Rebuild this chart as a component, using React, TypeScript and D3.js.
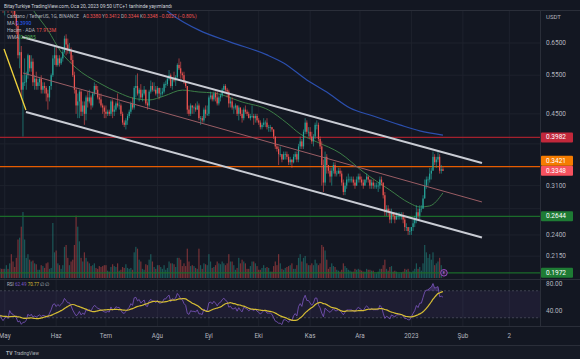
import React from "react";
import * as d3 from "d3";

// ---------- DATA (ADA/USDT daily, from 2022-03-28 to 2023-01-20) ----------
const firstDay = "2022-03-28";

const closes = [
  // Mar 28-31
  1.16, 1.19, 1.17, 1.14,
  // Apr
  1.15, 1.13, 1.17, 1.17, 1.12, 1.04, 1.06, 1.00, 1.01, 0.99,
  0.91, 0.94, 0.96, 0.93, 0.95, 0.95, 0.93, 0.95, 0.97, 0.95,
  0.93, 0.91, 0.91, 0.90, 0.91, 0.84, 0.87, 0.88, 0.82, 0.77,
  // May
  0.79, 0.80, 0.77, 0.84, 0.79, 0.78, 0.75, 0.71, 0.61, 0.62,
  0.51, 0.53, 0.53, 0.55, 0.61, 0.57, 0.59, 0.53, 0.54, 0.52,
  0.53, 0.54, 0.51, 0.52, 0.515, 0.50, 0.49, 0.52, 0.55, 0.60,
  0.61,
  // Jun
  0.58, 0.60, 0.585, 0.60, 0.62, 0.665, 0.645, 0.625, 0.625, 0.595,
  0.55, 0.51, 0.47, 0.48, 0.505, 0.455, 0.47, 0.45, 0.49, 0.48,
  0.49, 0.47, 0.50, 0.52, 0.51, 0.49, 0.485, 0.47, 0.465, 0.455,
  // Jul
  0.45, 0.455, 0.45, 0.48, 0.455, 0.46, 0.475, 0.47, 0.47, 0.45,
  0.43, 0.425, 0.435, 0.445, 0.455, 0.475, 0.465, 0.515, 0.52, 0.50,
  0.51, 0.49, 0.50, 0.51, 0.475, 0.47, 0.505, 0.52, 0.51, 0.51,
  0.50,
  // Aug
  0.515, 0.50, 0.50, 0.505, 0.525, 0.525, 0.54, 0.55, 0.52, 0.54,
  0.535, 0.545, 0.58, 0.57, 0.555, 0.55, 0.53, 0.52, 0.46, 0.45,
  0.47, 0.465, 0.465, 0.46, 0.47, 0.44, 0.44, 0.435, 0.46, 0.45,
  0.45,
  // Sep
  0.49, 0.495, 0.485, 0.50, 0.49, 0.475, 0.49, 0.495, 0.51, 0.52,
  0.51, 0.505, 0.475, 0.48, 0.465, 0.465, 0.47, 0.45, 0.465, 0.45,
  0.44, 0.46, 0.455, 0.45, 0.44, 0.445, 0.445, 0.44, 0.445, 0.435,
  // Oct
  0.43, 0.42, 0.425, 0.43, 0.43, 0.42, 0.42, 0.42, 0.415, 0.40,
  0.38, 0.375, 0.365, 0.365, 0.355, 0.365, 0.365, 0.36, 0.35, 0.355,
  0.35, 0.36, 0.365, 0.355, 0.38, 0.39, 0.38, 0.41, 0.43, 0.41,
  0.41,
  // Nov
  0.40, 0.39, 0.40, 0.425, 0.425, 0.395, 0.38, 0.345, 0.315, 0.36,
  0.345, 0.335, 0.325, 0.335, 0.345, 0.33, 0.33, 0.335, 0.33, 0.315,
  0.30, 0.31, 0.32, 0.32, 0.32, 0.32, 0.315, 0.31, 0.32, 0.325,
  // Dec
  0.32, 0.315, 0.31, 0.32, 0.325, 0.32, 0.31, 0.315, 0.31, 0.31,
  0.31, 0.31, 0.32, 0.315, 0.295, 0.27, 0.275, 0.27, 0.26, 0.27,
  0.265, 0.26, 0.265, 0.265, 0.265, 0.265, 0.26, 0.25, 0.25, 0.245,
  0.245,
  // Jan 2023
  0.25, 0.255, 0.26, 0.27, 0.265, 0.275, 0.275, 0.29, 0.31, 0.32,
  0.32, 0.33, 0.335, 0.36, 0.35, 0.355, 0.36, 0.335, 0.3375, 0.3348,
];

const highs = [
  1.20, 1.24, 1.20, 1.20,
  1.16, 1.18, 1.18, 1.19, 1.19, 1.12, 1.08, 1.07, 1.02, 1.03,
  0.99, 0.96, 0.97, 0.97, 0.96, 0.96, 0.96, 0.96, 0.98, 0.99,
  0.99, 0.94, 0.92, 0.92, 0.92, 0.92, 0.88, 0.92, 0.88, 0.83,
  0.80, 0.82, 0.81, 0.85, 0.87, 0.80, 0.78, 0.75, 0.72, 0.68,
  0.64, 0.55, 0.60, 0.56, 0.615, 0.61, 0.61, 0.60, 0.55, 0.56,
  0.54, 0.545, 0.55, 0.53, 0.53, 0.52, 0.51, 0.52, 0.555, 0.61,
  0.64,
  0.64, 0.61, 0.61, 0.605, 0.63, 0.675, 0.68, 0.665, 0.65, 0.635,
  0.61, 0.56, 0.515, 0.50, 0.51, 0.51, 0.48, 0.48, 0.495, 0.505,
  0.51, 0.495, 0.505, 0.53, 0.525, 0.52, 0.50, 0.50, 0.475, 0.47,
  0.47, 0.46, 0.46, 0.485, 0.485, 0.47, 0.48, 0.50, 0.48, 0.475,
  0.455, 0.435, 0.44, 0.45, 0.46, 0.48, 0.49, 0.52, 0.55, 0.555,
  0.515, 0.525, 0.51, 0.52, 0.51, 0.48, 0.51, 0.535, 0.53, 0.53,
  0.52,
  0.52, 0.515, 0.515, 0.515, 0.53, 0.535, 0.545, 0.565, 0.555, 0.545,
  0.56, 0.55, 0.585, 0.60, 0.59, 0.56, 0.56, 0.535, 0.52, 0.47,
  0.475, 0.47, 0.47, 0.475, 0.48, 0.475, 0.445, 0.445, 0.465, 0.47,
  0.47,
  0.495, 0.505, 0.50, 0.505, 0.505, 0.505, 0.495, 0.50, 0.515, 0.525,
  0.525, 0.515, 0.51, 0.49, 0.49, 0.47, 0.475, 0.47, 0.47, 0.465,
  0.46, 0.465, 0.47, 0.46, 0.455, 0.45, 0.47, 0.45, 0.45, 0.45,
  0.44, 0.435, 0.43, 0.44, 0.435, 0.44, 0.425, 0.425, 0.42, 0.415,
  0.40, 0.385, 0.38, 0.38, 0.365, 0.37, 0.37, 0.37, 0.365, 0.36,
  0.355, 0.365, 0.37, 0.37, 0.385, 0.40, 0.395, 0.415, 0.44, 0.435,
  0.42,
  0.42, 0.41, 0.405, 0.43, 0.435, 0.43, 0.40, 0.39, 0.355, 0.37,
  0.365, 0.345, 0.34, 0.34, 0.35, 0.35, 0.335, 0.34, 0.34, 0.335,
  0.32, 0.315, 0.325, 0.33, 0.325, 0.325, 0.325, 0.32, 0.325, 0.33,
  0.33, 0.325, 0.32, 0.32, 0.33, 0.325, 0.32, 0.32, 0.32, 0.315,
  0.315, 0.315, 0.325, 0.325, 0.315, 0.30, 0.28, 0.28, 0.275, 0.275,
  0.27, 0.27, 0.27, 0.27, 0.27, 0.27, 0.27, 0.265, 0.255, 0.25,
  0.25,
  0.25, 0.26, 0.265, 0.28, 0.275, 0.28, 0.28, 0.295, 0.32, 0.325,
  0.325, 0.34, 0.34, 0.37, 0.365, 0.36, 0.37, 0.365, 0.345, 0.3412,
];

const lows = [
  1.13, 1.15, 1.14, 1.13,
  1.10, 1.12, 1.12, 1.11, 1.11, 1.02, 1.03, 0.99, 0.99, 0.98,
  0.90, 0.90, 0.92, 0.92, 0.93, 0.94, 0.93, 0.90, 0.94, 0.94,
  0.91, 0.90, 0.90, 0.89, 0.86, 0.83, 0.83, 0.85, 0.81, 0.76,
  0.75, 0.77, 0.76, 0.77, 0.76, 0.75, 0.74, 0.68, 0.60, 0.57,
  0.49, 0.40, 0.52, 0.51, 0.54, 0.56, 0.56, 0.52, 0.51, 0.51,
  0.51, 0.52, 0.50, 0.50, 0.50, 0.48, 0.46, 0.48, 0.51, 0.545,
  0.58,
  0.575, 0.575, 0.575, 0.58, 0.59, 0.615, 0.61, 0.615, 0.615, 0.585,
  0.545, 0.50, 0.45, 0.44, 0.44, 0.445, 0.445, 0.425, 0.435, 0.465,
  0.475, 0.46, 0.465, 0.495, 0.50, 0.485, 0.475, 0.465, 0.45, 0.44,
  0.44, 0.445, 0.445, 0.445, 0.44, 0.445, 0.455, 0.465, 0.46, 0.445,
  0.425, 0.42, 0.415, 0.425, 0.44, 0.45, 0.46, 0.46, 0.49, 0.495,
  0.48, 0.485, 0.48, 0.495, 0.47, 0.46, 0.465, 0.50, 0.505, 0.505,
  0.495,
  0.49, 0.485, 0.49, 0.495, 0.50, 0.515, 0.52, 0.535, 0.515, 0.51,
  0.53, 0.52, 0.54, 0.565, 0.54, 0.54, 0.525, 0.515, 0.45, 0.445,
  0.445, 0.45, 0.45, 0.455, 0.46, 0.435, 0.425, 0.43, 0.43, 0.44,
  0.445,
  0.445, 0.485, 0.48, 0.48, 0.48, 0.47, 0.47, 0.48, 0.49, 0.505,
  0.505, 0.49, 0.465, 0.465, 0.46, 0.45, 0.46, 0.445, 0.435, 0.445,
  0.43, 0.435, 0.45, 0.445, 0.44, 0.435, 0.44, 0.425, 0.43, 0.43,
  0.425, 0.415, 0.415, 0.42, 0.42, 0.415, 0.41, 0.41, 0.41, 0.395,
  0.375, 0.37, 0.345, 0.36, 0.35, 0.355, 0.355, 0.355, 0.345, 0.345,
  0.34, 0.348, 0.355, 0.35, 0.35, 0.375, 0.375, 0.375, 0.405, 0.405,
  0.40,
  0.395, 0.385, 0.38, 0.395, 0.415, 0.39, 0.375, 0.31, 0.30, 0.31,
  0.33, 0.33, 0.315, 0.31, 0.33, 0.325, 0.325, 0.33, 0.325, 0.31,
  0.295, 0.295, 0.305, 0.315, 0.315, 0.315, 0.31, 0.305, 0.31, 0.315,
  0.315, 0.31, 0.305, 0.31, 0.315, 0.315, 0.305, 0.305, 0.305, 0.305,
  0.305, 0.30, 0.305, 0.31, 0.29, 0.265, 0.265, 0.265, 0.255, 0.255,
  0.26, 0.255, 0.26, 0.26, 0.26, 0.26, 0.255, 0.245, 0.245, 0.24,
  0.24,
  0.24, 0.245, 0.25, 0.255, 0.26, 0.26, 0.27, 0.275, 0.29, 0.305,
  0.31, 0.315, 0.32, 0.335, 0.345, 0.34, 0.35, 0.33, 0.33, 0.3344,
];

// volume, millions of ADA
const volumes = [
  700, 800, 600, 650,
  600, 500, 450, 550, 550, 800, 500, 600, 300, 350,
  700, 550, 450, 400, 350, 250, 250, 450, 400, 400,
  500, 400, 250, 250, 500, 600, 500, 550, 500, 500,
  500, 700, 500, 800, 1300, 900, 600, 1100, 2100, 2200,
  2800, 3600, 2100, 1100, 1300, 1000, 900, 950, 800, 750,
  450, 450, 700, 650, 550, 800, 850, 500, 550, 3000,
  1400,
  1500, 800, 700, 500, 700, 1700, 1800, 1100, 700, 900,
  1000, 1800, 3400, 2800, 2000, 1100, 900, 1400, 1100, 900,
  800, 650, 700, 800, 550, 500, 650, 600, 650, 700,
  700, 400, 350, 600, 750, 650, 600, 800, 400, 450,
  600, 550, 750, 550, 500, 550, 450, 1400, 1700, 1600,
  1000, 900, 500, 450, 750, 700, 1000, 1300, 900, 600,
  500,
  700, 700, 600, 500, 700, 450, 550, 900, 800, 800,
  750, 600, 1100, 1100, 1000, 650, 800, 650, 1600, 900,
  650, 700, 650, 550, 500, 1600, 700, 500, 800, 750,
  700,
  1300, 900, 550, 600, 700, 900, 800, 750, 900, 800,
  700, 800, 1300, 900, 900, 700, 450, 550, 1100, 800,
  1000, 900, 800, 500, 500, 650, 900, 900, 800, 650,
  450, 450, 550, 700, 550, 600, 550, 350, 350, 650,
  900, 700, 1300, 800, 500, 450, 550, 600, 650, 700,
  800, 500, 500, 700, 1100, 1300, 900, 1100, 1200, 800,
  700,
  700, 800, 700, 1000, 800, 700, 800, 1800, 1700, 1500,
  1000, 500, 600, 800, 650, 600, 450, 400, 350, 450,
  800, 650, 550, 450, 400, 350, 350, 500, 450, 500,
  450, 400, 350, 350, 500, 450, 450, 400, 400, 250,
  250, 350, 500, 500, 700, 1000, 500, 400, 600, 650,
  350, 400, 350, 250, 250, 300, 350, 500, 450, 500,
  350,
  300, 400, 500, 800, 500, 600, 400, 800, 1800, 1400,
  1100, 1300, 1000, 1400, 700, 800, 900, 1100, 700, 18,
];

// 200-day MA (blue), traced
const blueDates = ["2022-07-25", "2022-08-10", "2022-08-26", "2022-09-14", "2022-10-06", "2022-10-16", "2022-10-30", "2022-11-11", "2022-11-25", "2022-12-09", "2022-12-25", "2023-01-06", "2023-01-20"];
const blueValues = [0.85, 0.752, 0.695, 0.653, 0.611, 0.586, 0.5365, 0.504, 0.464, 0.445, 0.425, 0.412, 0.403];

// WMA (green), traced
const greenDates = ["2022-05-10", "2022-05-19", "2022-05-27", "2022-06-04", "2022-06-13", "2022-06-27", "2022-07-09", "2022-07-17", "2022-07-27", "2022-08-05", "2022-08-16", "2022-08-26", "2022-09-04", "2022-09-21", "2022-10-07", "2022-10-18", "2022-10-26", "2022-11-05", "2022-11-19", "2022-12-03", "2022-12-19", "2022-12-31", "2023-01-06", "2023-01-12", "2023-01-20"];
const greenValues = [0.86, 0.763, 0.695, 0.62, 0.571, 0.528, 0.5015, 0.4886, 0.4836, 0.4937, 0.509, 0.504, 0.5015, 0.4786, 0.459, 0.429, 0.4054, 0.389, 0.367, 0.333, 0.303, 0.283, 0.2775, 0.279, 0.2985];

// drawn trend lines: [start, end]
const upperDates = ["2022-05-11T10:00Z", "2023-02-12T12:00Z"];
const upperValues = [0.6706, 0.3487];
const midDates = ["2022-05-12T00:00Z", "2023-02-12T12:00Z"];
const midValues = [0.5563, 0.2848];
const lowerDates = ["2022-05-13T19:00Z", "2023-02-12T12:00Z"];
const lowerValues = [0.4544, 0.2369];
const yellowDates = ["2022-04-30T14:00Z", "2022-05-13T19:00Z"];
const yellowValues = [0.63, 0.459];

// horizontal levels
const levelPrices = [0.3982, 0.3421, 0.2644, 0.1972];
const lastClose = 0.3348;

// axes
const priceTicks = [0.65, 0.55, 0.45, 0.31, 0.24, 0.215];
const hiddenPriceTicks = [0.385, 0.275];
const monthDates = ["2022-05-01", "2022-06-01", "2022-07-01", "2022-08-01", "2022-09-01", "2022-10-01", "2022-11-01", "2022-12-01", "2023-01-01", "2023-02-01", "2023-03-01"];
const monthLabels = ["May", "Haz", "Tem", "Ağu", "Eyl", "Eki", "Kas", "Ara", "2023", "Şub", "2"];
const rsiTicks = [80, 40];

// ---------- LAYOUT / STYLE ----------
const W = 580, H = 359;
const PLOT_R = 540;
const MAIN_TOP = 11, MAIN_BOT = 279;
const RSI_TOP = 280, RSI_BOT = 326;
const BG = "#131722";
const UP = "#26a69a", DOWN = "#ef5350";
const TXT = "#b2b5be";
const FONT = "Roboto, 'Liberation Sans', Arial, sans-serif";

const levelStyle: Record<number, { line: string; box: string }> = {
  0.3982: { line: "#a3202d", box: "#c2283b" },
  0.3421: { line: "#e65c00", box: "#f57c00" },
  0.2644: { line: "#1b6b2a", box: "#1e7b34" },
  0.1972: { line: "#1b6b2a", box: "#1e7b34" },
};

export default function App() {
  const n = Math.min(closes.length, highs.length, lows.length, volumes.length);
  const t0 = new Date(firstDay + "T00:00:00Z").getTime();
  const dates = d3.range(n).map((i) => new Date(t0 + i * 864e5));

  const x = d3.scaleUtc()
    .domain([new Date("2022-04-28T04:00:00Z"), new Date("2023-03-19T11:00:00Z")])
    .range([0, PLOT_R]);
  const y = d3.scaleLog().domain([0.65, 0.1972]).range([43, 272.8]);
  const yVol = d3.scaleLinear().domain([0, 3600]).range([278, 212]);
  const yRsi = d3.scaleLinear().domain([80, 40]).range([284, 311]);

  // RSI(14) Wilder + SMA(14)
  const rsi: (number | null)[] = new Array(n).fill(null);
  let ag = 0, al = 0;
  for (let i = 1; i < n; i++) {
    const ch = closes[i] - closes[i - 1];
    const g = Math.max(ch, 0), l = Math.max(-ch, 0);
    if (i <= 14) {
      ag += g; al += l;
      if (i === 14) { ag /= 14; al /= 14; rsi[i] = al === 0 ? 100 : 100 - 100 / (1 + ag / al); }
    } else {
      ag = (ag * 13 + g) / 14; al = (al * 13 + l) / 14;
      rsi[i] = al === 0 ? 100 : 100 - 100 / (1 + ag / al);
    }
  }
  const rsiMa: (number | null)[] = new Array(n).fill(null);
  for (let i = 0; i < n; i++) {
    const w = rsi.slice(Math.max(0, i - 13), i + 1);
    if (i >= 27 && w.every((v) => v != null)) rsiMa[i] = d3.mean(w as number[]) as number;
  }

  const idx = d3.range(n);
  const rsiLine = d3.line<number>().defined((i) => rsi[i] != null).x((i) => x(dates[i])).y((i) => yRsi(rsi[i] as number));
  const rsiMaLine = d3.line<number>().defined((i) => rsiMa[i] != null).x((i) => x(dates[i])).y((i) => yRsi(rsiMa[i] as number)).curve(d3.curveMonotoneX);
  const obArea = d3.area<number>().defined((i) => rsi[i] != null).x((i) => x(dates[i])).y0(yRsi(70)).y1((i) => yRsi(Math.max(rsi[i] as number, 70)));

  const curveLine = (ds: string[], vs: number[]) =>
    d3.line<number>().x((i) => x(new Date(ds[i]))).y((i) => y(vs[i])).curve(d3.curveMonotoneX)(d3.range(ds.length)) || "";
  const straight = (ds: string[], vs: number[]) =>
    d3.line<number>().x((i) => x(new Date(ds[i]))).y((i) => y(vs[i]))(d3.range(ds.length)) || "";

  // price labels with collision avoidance
  const labels = [
    ...levelPrices.map((p) => ({ p, box: levelStyle[p].box, txt: "#ffffff" })),
    { p: lastClose, box: "#f7525f", txt: "#ffffff" },
  ].map((l) => ({ ...l, cy: y(l.p) }));
  labels.sort((a, b) => b.cy - a.cy);
  for (let i = 1; i < labels.length; i++) {
    if (labels[i].cy > labels[i - 1].cy - 10) labels[i].cy = labels[i - 1].cy - 10;
  }

  const bw = 1.2;
  const lastDate = dates[n - 1];

  return (
    <svg width={W} height={H} viewBox={`0 0 ${W} ${H}`} style={{ position: "fixed", left: 0, top: 0, display: "block" }} fontFamily={FONT}>
      <defs>
        <clipPath id="mainClip"><rect x={0} y={MAIN_TOP} width={PLOT_R} height={MAIN_BOT - MAIN_TOP} /></clipPath>
        <clipPath id="rsiClip"><rect x={0} y={RSI_TOP} width={PLOT_R} height={RSI_BOT - RSI_TOP} /></clipPath>
      </defs>
      <rect x={0} y={0} width={W} height={H} fill={BG} />

      {/* header */}
      <text x={4} y={7.5} fontSize={4.8} fill="#d1d4dc" textLength={168} lengthAdjust="spacingAndGlyphs">
        BitayTurkiye TradingView.com, Oca 20, 2023 09:50 UTC+1 tarihinde yayımlandı
      </text>
      <line x1={0} x2={W} y1={10.5} y2={10.5} stroke="#2a2e39" strokeWidth={1} />

      {/* grid */}
      <g clipPath="url(#mainClip)">
        {monthDates.map((d) => (
          <line key={d} x1={x(new Date(d))} x2={x(new Date(d))} y1={MAIN_TOP} y2={MAIN_BOT} stroke="#1e222d" strokeWidth={1} />
        ))}
        {[...priceTicks, ...hiddenPriceTicks].map((p) => (
          <line key={p} x1={0} x2={PLOT_R} y1={y(p)} y2={y(p)} stroke="#1e222d" strokeWidth={1} />
        ))}
      </g>
      <g clipPath="url(#rsiClip)">
        {monthDates.map((d) => (
          <line key={d} x1={x(new Date(d))} x2={x(new Date(d))} y1={RSI_TOP} y2={RSI_BOT} stroke="#1e222d" strokeWidth={1} />
        ))}
      </g>

      {/* main pane */}
      <g clipPath="url(#mainClip)">
        {/* volume */}
        {idx.map((i) => {
          const o = i === 0 ? closes[0] : closes[i - 1];
          const up = closes[i] >= o;
          return (
            <rect key={"v" + i} x={x(dates[i]) - bw / 2} width={bw} y={yVol(volumes[i])} height={yVol(0) - yVol(volumes[i])}
              fill={up ? UP : DOWN} opacity={0.45} />
          );
        })}

        {/* horizontal levels */}
        {levelPrices.map((p) => (
          <line key={"lv" + p} x1={0} x2={PLOT_R} y1={y(p)} y2={y(p)} stroke={levelStyle[p].line} strokeWidth={1.2} />
        ))}

        {/* moving averages */}
        <path d={curveLine(blueDates, blueValues)} fill="none" stroke="#2b4fae" strokeWidth={1.2} />
        <path d={curveLine(greenDates, greenValues)} fill="none" stroke="#3c7d46" strokeWidth={1} />

        {/* candles */}
        {idx.map((i) => {
          const c = closes[i];
          const o = i === 0 ? c : closes[i - 1];
          const up = c >= o;
          const col = up ? UP : DOWN;
          const cx = x(dates[i]);
          const hi = Math.max(highs[i], o, c), lo = Math.min(lows[i], o, c);
          const yt = y(Math.max(o, c)), yb = y(Math.min(o, c));
          return (
            <g key={"c" + i}>
              <line x1={cx} x2={cx} y1={y(hi)} y2={y(lo)} stroke={col} strokeWidth={0.6} />
              <rect x={cx - bw / 2} width={bw} y={yt} height={Math.max(0.7, yb - yt)} fill={col} />
            </g>
          );
        })}

        {/* trend lines */}
        <path d={straight(midDates, midValues)} fill="none" stroke="#9a5d64" strokeWidth={1} />
        <path d={straight(upperDates, upperValues)} fill="none" stroke="#c9ccd4" strokeWidth={2} />
        <path d={straight(lowerDates, lowerValues)} fill="none" stroke="#c9ccd4" strokeWidth={2} />
        <path d={straight(yellowDates, yellowValues)} fill="none" stroke="#f2d43d" strokeWidth={1.3} />

        {/* marker */}
        <circle cx={x(lastDate) + 1} cy={y(0.1972)} r={3.3} fill="#2b1f3d" stroke="#a64fd1" strokeWidth={0.9} />
        <text x={x(lastDate) + 1} y={y(0.1972) + 1.5} fontSize={4} fill="#c58af0" textAnchor="middle">E</text>
      </g>

      {/* legend */}
      <text x={7} y={18} fontSize={5} fill={TXT} textLength={72} lengthAdjust="spacingAndGlyphs">Cardano / TetherUS, 1G, BINANCE</text>
      <text x={83} y={18} fontSize={4.8}>
        <tspan fill={TXT}>A</tspan>
        <tspan fill={DOWN}>0.3380 </tspan>
        <tspan fill={TXT}>Y</tspan>
        <tspan fill={DOWN}>0.3412 </tspan>
        <tspan fill={TXT}>D</tspan>
        <tspan fill={DOWN}>0.3344 </tspan>
        <tspan fill={TXT}>K</tspan>
        <tspan fill={DOWN}>0.3348 −0.0027 (−0.80%)</tspan>
      </text>
      <text x={7} y={25} fontSize={5}>
        <tspan fill={TXT}>MA </tspan>
        <tspan fill="#2962ff">0.3990</tspan>
      </text>
      <text x={7} y={32} fontSize={5}>
        <tspan fill={TXT}>Hacim · ADA </tspan>
        <tspan fill={DOWN}>17.913M</tspan>
      </text>
      <text x={7} y={39} fontSize={5}>
        <tspan fill={TXT}>WMA </tspan>
        <tspan fill="#4caf50">0.2985</tspan>
      </text>

      {/* pane separators */}
      <line x1={0} x2={W} y1={MAIN_BOT + 0.5} y2={MAIN_BOT + 0.5} stroke="#2a2e39" strokeWidth={1} />
      <line x1={0} x2={W} y1={RSI_BOT + 0.5} y2={RSI_BOT + 0.5} stroke="#2a2e39" strokeWidth={1} />
      <line x1={PLOT_R + 0.5} x2={PLOT_R + 0.5} y1={10.5} y2={RSI_BOT} stroke="#2a2e39" strokeWidth={1} />

      {/* RSI pane */}
      <g clipPath="url(#rsiClip)">
        <rect x={0} width={PLOT_R} y={yRsi(70)} height={yRsi(30) - yRsi(70)} fill="rgba(126,87,194,0.1)" />
        <line x1={0} x2={PLOT_R} y1={yRsi(70)} y2={yRsi(70)} stroke="#787b86" strokeOpacity={0.6} strokeDasharray="2,2" strokeWidth={0.7} />
        <line x1={0} x2={PLOT_R} y1={yRsi(30)} y2={yRsi(30)} stroke="#787b86" strokeOpacity={0.6} strokeDasharray="2,2" strokeWidth={0.7} />
        <path d={obArea(idx) || ""} fill="rgba(126,87,194,0.35)" />
        <path d={rsiLine(idx) || ""} fill="none" stroke="#7e57c2" strokeWidth={0.8} />
        <path d={rsiMaLine(idx) || ""} fill="none" stroke="#d6bd34" strokeWidth={1.2} />
      </g>
      <text x={7} y={286} fontSize={4.6}>
        <tspan fill={TXT}>RSI </tspan>
        <tspan fill="#7e57c2">62.49 </tspan>
        <tspan fill="#d6bd34">70.77 </tspan>
        <tspan fill={TXT}>∅ ∅</tspan>
      </text>

      {/* price axis */}
      <text x={546} y={19} fontSize={6} fill={TXT}>USDT</text>
      {priceTicks.map((p) => (
        <text key={"pt" + p} x={546} y={y(p)} fontSize={6.5} fill={TXT} dominantBaseline="central">{p.toFixed(4)}</text>
      ))}
      {labels.map((l) => (
        <g key={"lb" + l.p}>
          <rect x={541} y={l.cy - 5} width={32} height={10} rx={1} fill={l.box} />
          <text x={546} y={l.cy} fontSize={6.5} fill={l.txt} dominantBaseline="central">{l.p.toFixed(4)}</text>
        </g>
      ))}
      {rsiTicks.map((v) => (
        <text key={"rt" + v} x={546} y={yRsi(v)} fontSize={6.5} fill={TXT} dominantBaseline="central">{v.toFixed(2)}</text>
      ))}

      {/* time axis */}
      {monthDates.map((d, i) => (
        <text key={"tm" + d} x={x(new Date(d))} y={338} fontSize={6.3} fill={TXT} textAnchor="middle">{monthLabels[i]}</text>
      ))}

      {/* footer */}
      <line x1={0} x2={W} y1={345.5} y2={345.5} stroke="#2a2e39" strokeWidth={1} />
      <rect x={0} y={346} width={W} height={H - 346} fill="#161a25" />
      <text x={6} y={354.5} fontSize={5} fill={TXT} fontWeight="bold">TV</text>
      <text x={14} y={354.5} fontSize={4.5} fill={TXT}>TradingView</text>
    </svg>
  );
}
